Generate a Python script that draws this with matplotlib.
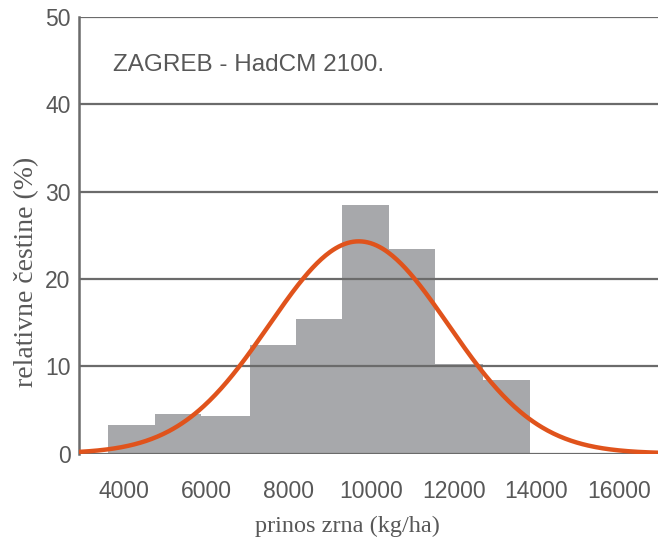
import numpy as np
import matplotlib
matplotlib.use('Agg')
import matplotlib.pyplot as plt

# histogram of grain yield (kg/ha), relative frequency (%)
bin_edges = [3620, 4760, 5880, 7060, 8180, 9290, 10430, 11550, 12710, 13850]
freq = [3.3, 4.5, 4.3, 12.4, 15.4, 28.5, 23.4, 10.3, 8.4]

# fitted normal curve
fit_mean = 9700
fit_std = 2170
fit_peak = 24.3

x_ticks = [4000, 6000, 8000, 10000, 12000, 14000, 16000]
y_ticks = [0, 10, 20, 30, 40, 50]

txt = '#585858'
grid = '#6b6b6b'

fig = plt.figure(figsize=(6.6, 5.43), dpi=100)
ax = fig.add_axes([79 / 660, 0.1648, 579 / 660, 0.804])

edges = np.array(bin_edges)
ax.bar(edges[:-1], freq, width=np.diff(edges), align='edge',
       color='#a7a8ab', edgecolor='none', zorder=1)

for yv in y_ticks:
    ax.axhline(yv, color=grid, lw=1.6, zorder=2)

xs = np.linspace(2920, 16950, 400)
ax.plot(xs, fit_peak * np.exp(-0.5 * ((xs - fit_mean) / fit_std) ** 2),
        color='#e0531c', lw=3.2, zorder=3, solid_capstyle='butt')

ax.set_xlim(2920, 16950)
ax.set_ylim(0, 50)
ax.set_xticks(x_ticks)
ax.set_yticks(y_ticks)
ax.tick_params(length=0, labelsize=16.5, labelcolor=txt)
ax.tick_params(axis='x', pad=19)
ax.tick_params(axis='y', pad=6)
for lab in ax.get_xticklabels() + ax.get_yticklabels():
    lab.set_family('Liberation Sans')

for s in ['top', 'right', 'bottom']:
    ax.spines[s].set_visible(False)
ax.spines['left'].set_color(grid)
ax.spines['left'].set_linewidth(1.8)

ax.text(0.059, 0.89, 'ZAGREB - HadCM 2100.', transform=ax.transAxes,
        fontsize=17.5, color=txt, family='Liberation Sans', va='center')

ax.set_xlabel('prinos zrna (kg/ha)', fontsize=17.5, color=txt,
              family='Liberation Serif', va='center')
ax.xaxis.set_label_coords(0.463, -0.168)
ax.set_ylabel('relativne čestine (%)', fontsize=20, color=txt,
              family='Liberation Serif', va='center')
ax.yaxis.set_label_coords(-0.09, 0.416)

fig.savefig('out.png', dpi=100)
